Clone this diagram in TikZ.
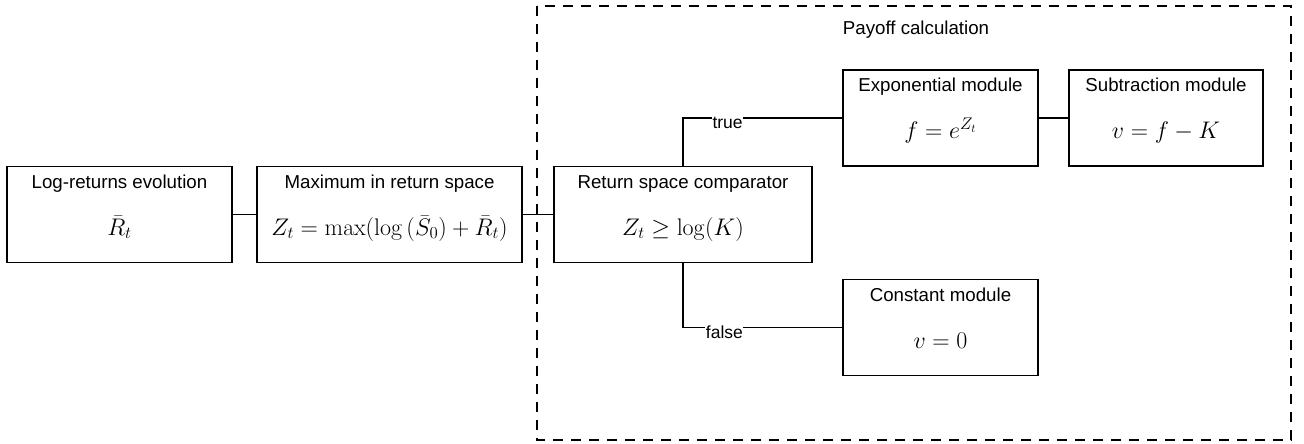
\RequirePackage{fix-cm}
\documentclass[tikz,border=0pt]{standalone}
\usepackage{amsmath}
\usepackage[no-math]{fontspec}
\setmainfont{Liberation Sans}
\usepackage{tikz}
\usetikzlibrary{positioning,calc}

\begin{document}
\begin{tikzpicture}[
			x=1pt, y=-1pt, % one unit = one pixel of the picture
			module/.style={draw=black, line width=1.3pt, minimum width=#1, minimum height=96pt, inner sep=0pt},
			ttl/.style={anchor=base, yshift=-22.5pt, font=\fontsize{18.7}{22}\selectfont},
			frm/.style={anchor=base, yshift=28pt, font=\fontsize{24}{28}\selectfont},
			lbl/.style={fill=white, inner sep=0.5pt, yshift=-5pt, font=\fontsize{17.5}{20}\selectfont},
			conn/.style={black, line width=1.3pt}]
		\useasboundingbox (0,0) rectangle (1304,444);
		\draw [line width=1.3pt, dash pattern=on 10pt off 8pt] (537,6) rectangle (1291,440);
		\node (pay) [anchor=base, font=\fontsize{18.7}{22}\selectfont] at (916,35) {Payoff calculation};
		\path 	(119.5,214.5) node (lre) [module=225pt, label={[ttl]north:Log-returns evolution}, label={[frm]south:{$\bar{R}_t$}}] {}
		        (389.5,214.5) node (mrs) [module=265pt, label={[ttl]north:Maximum in return space}, label={[frm]south:{$Z_t = \max(\log\,(\bar{S}_0) + \bar{R}_t)$}}] {}
		        (683,214.5)   node (cmp) [module=258pt, label={[ttl]north:Return space comparator}, label={[frm]south:{$Z_t \geq \log(K)$}}] {}
		        (940.5,118)   node (exm) [module=195pt, label={[ttl]north:Exponential module}, label={[frm]south:{$f = e^{Z_t}$}}] {}
		        (1166,118)    node (sbm) [module=194pt, label={[ttl]north:Subtraction module}, label={[frm]south:{$v = f - K$}}] {}
		        (940.5,327.5) node (csm) [module=195pt, label={[ttl]north:Constant module}, label={[frm]south:{$v = 0$}}] {};
		\draw [conn] (lre) -- (mrs);
		\draw [conn] (mrs) -- (cmp);
		\draw [conn] (cmp.north) |- node[pos=0.64, lbl] {true} (exm.west);
		\draw [conn] (cmp.south) |- node[pos=0.63, lbl] {false} (csm.west);
		\draw [conn] (exm) -- (sbm);
	\end{tikzpicture}
\end{document}
